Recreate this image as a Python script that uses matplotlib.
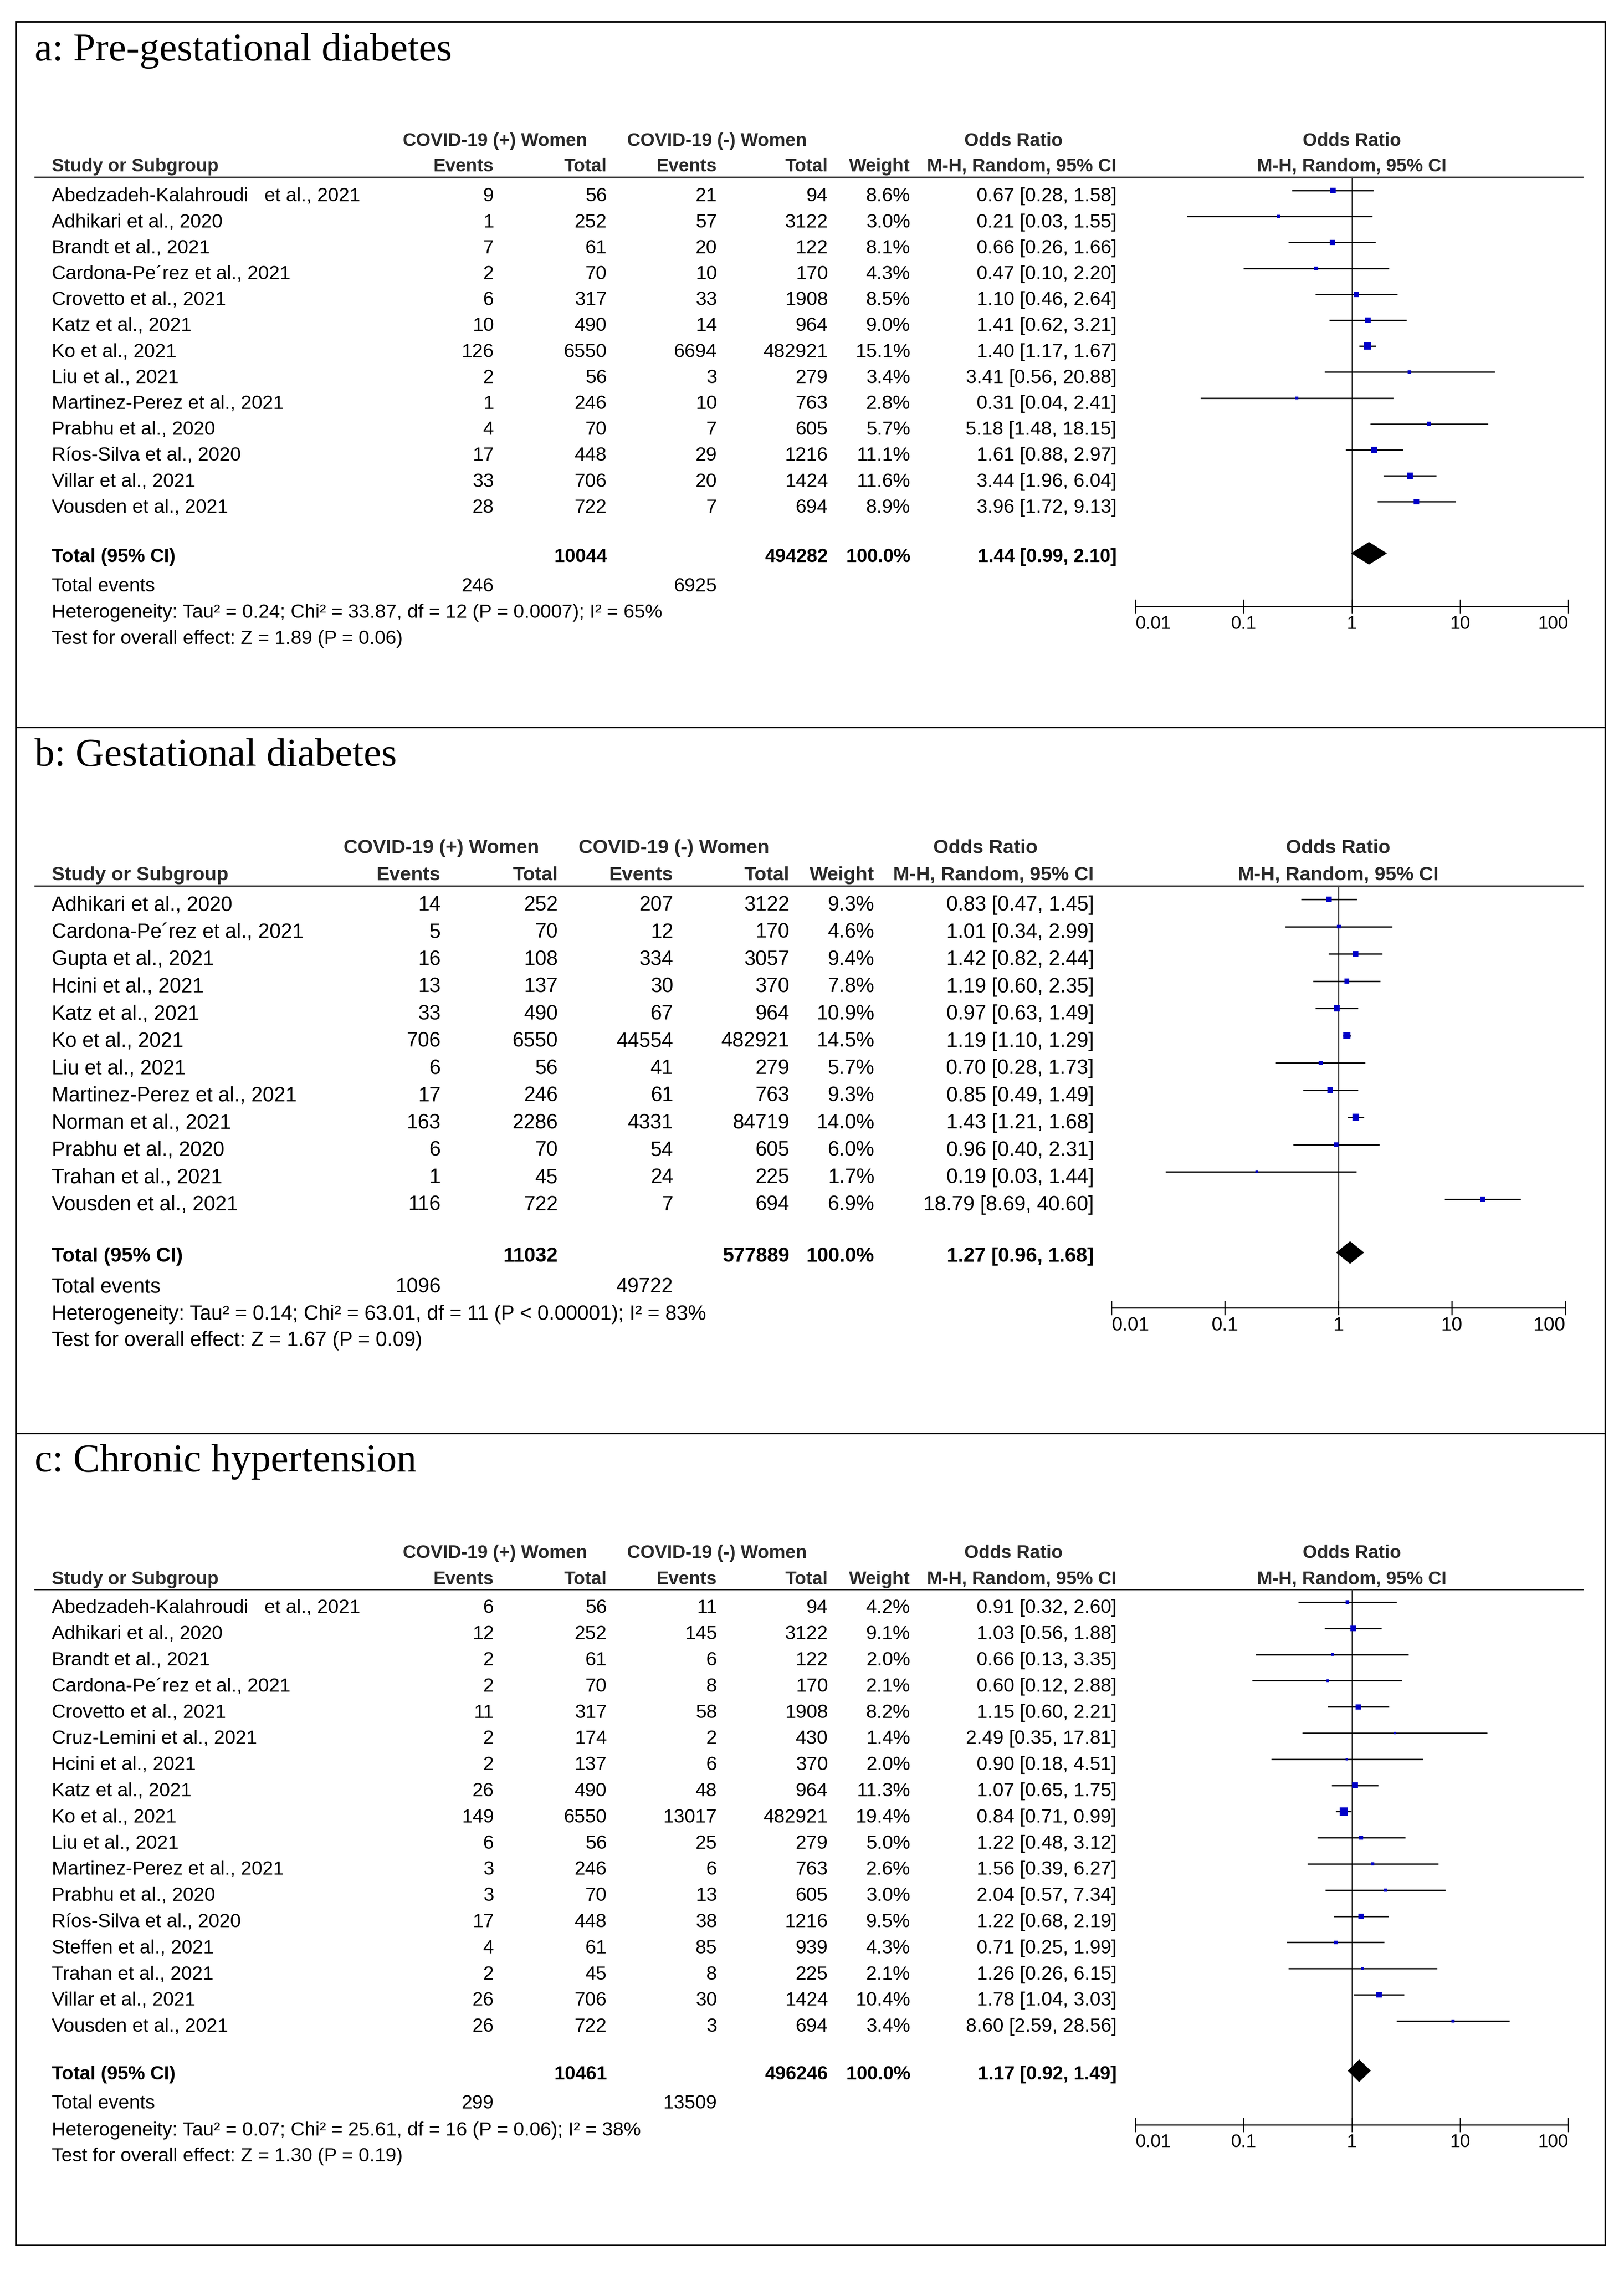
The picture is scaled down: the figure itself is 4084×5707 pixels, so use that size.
import matplotlib
matplotlib.use('Agg')
import matplotlib.pyplot as plt
from matplotlib.patches import Polygon, Rectangle
from matplotlib.ticker import NullLocator, FixedLocator
import numpy as np

plt.rcParams['font.family'] = ['Liberation Sans', 'DejaVu Sans']

W, H = 4084, 5707
DPI = 100
PX = 72.0 / DPI  # points per pixel

# ---------------- data: panel a ----------------
a_title = "a: Pre-gestational diabetes"
a_studies = ["Abedzadeh-Kalahroudi   et al., 2021", "Adhikari et al., 2020", "Brandt et al., 2021",
             "Cardona-Pe\u00b4rez et al., 2021", "Crovetto et al., 2021", "Katz et al., 2021",
             "Ko et al., 2021", "Liu et al., 2021", "Martinez-Perez et al., 2021", "Prabhu et al., 2020",
             "R\u00edos-Silva et al., 2020", "Villar et al., 2021", "Vousden et al., 2021"]
a_ev_pos = [9, 1, 7, 2, 6, 10, 126, 2, 1, 4, 17, 33, 28]
a_tot_pos = [56, 252, 61, 70, 317, 490, 6550, 56, 246, 70, 448, 706, 722]
a_ev_neg = [21, 57, 20, 10, 33, 14, 6694, 3, 10, 7, 29, 20, 7]
a_tot_neg = [94, 3122, 122, 170, 1908, 964, 482921, 279, 763, 605, 1216, 1424, 694]
a_weight = [8.6, 3.0, 8.1, 4.3, 8.5, 9.0, 15.1, 3.4, 2.8, 5.7, 11.1, 11.6, 8.9]
a_or = [0.67, 0.21, 0.66, 0.47, 1.10, 1.41, 1.40, 3.41, 0.31, 5.18, 1.61, 3.44, 3.96]
a_lo = [0.28, 0.03, 0.26, 0.10, 0.46, 0.62, 1.17, 0.56, 0.04, 1.48, 0.88, 1.96, 1.72]
a_hi = [1.58, 1.55, 1.66, 2.20, 2.64, 3.21, 1.67, 20.88, 2.41, 18.15, 2.97, 6.04, 9.13]
a_total = dict(tot_pos=10044, tot_neg=494282, ev_pos=246, ev_neg=6925, orv=1.44, lo=0.99, hi=2.10)
a_het = "Heterogeneity: Tau\u00b2 = 0.24; Chi\u00b2 = 33.87, df = 12 (P = 0.0007); I\u00b2 = 65%"
a_test = "Test for overall effect: Z = 1.89 (P = 0.06)"

# ---------------- data: panel b ----------------
b_title = "b: Gestational diabetes"
b_studies = ["Adhikari et al., 2020", "Cardona-Pe\u00b4rez et al., 2021", "Gupta et al., 2021",
             "Hcini et al., 2021", "Katz et al., 2021", "Ko et al., 2021", "Liu et al., 2021",
             "Martinez-Perez et al., 2021", "Norman et al., 2021", "Prabhu et al., 2020",
             "Trahan et al., 2021", "Vousden et al., 2021"]
b_ev_pos = [14, 5, 16, 13, 33, 706, 6, 17, 163, 6, 1, 116]
b_tot_pos = [252, 70, 108, 137, 490, 6550, 56, 246, 2286, 70, 45, 722]
b_ev_neg = [207, 12, 334, 30, 67, 44554, 41, 61, 4331, 54, 24, 7]
b_tot_neg = [3122, 170, 3057, 370, 964, 482921, 279, 763, 84719, 605, 225, 694]
b_weight = [9.3, 4.6, 9.4, 7.8, 10.9, 14.5, 5.7, 9.3, 14.0, 6.0, 1.7, 6.9]
b_or = [0.83, 1.01, 1.42, 1.19, 0.97, 1.19, 0.70, 0.85, 1.43, 0.96, 0.19, 18.79]
b_lo = [0.47, 0.34, 0.82, 0.60, 0.63, 1.10, 0.28, 0.49, 1.21, 0.40, 0.03, 8.69]
b_hi = [1.45, 2.99, 2.44, 2.35, 1.49, 1.29, 1.73, 1.49, 1.68, 2.31, 1.44, 40.60]
b_total = dict(tot_pos=11032, tot_neg=577889, ev_pos=1096, ev_neg=49722, orv=1.27, lo=0.96, hi=1.68)
b_het = "Heterogeneity: Tau\u00b2 = 0.14; Chi\u00b2 = 63.01, df = 11 (P < 0.00001); I\u00b2 = 83%"
b_test = "Test for overall effect: Z = 1.67 (P = 0.09)"

# ---------------- data: panel c ----------------
c_title = "c: Chronic hypertension"
c_studies = ["Abedzadeh-Kalahroudi   et al., 2021", "Adhikari et al., 2020", "Brandt et al., 2021",
             "Cardona-Pe\u00b4rez et al., 2021", "Crovetto et al., 2021", "Cruz-Lemini et al., 2021",
             "Hcini et al., 2021", "Katz et al., 2021", "Ko et al., 2021", "Liu et al., 2021",
             "Martinez-Perez et al., 2021", "Prabhu et al., 2020", "R\u00edos-Silva et al., 2020",
             "Steffen et al., 2021", "Trahan et al., 2021", "Villar et al., 2021", "Vousden et al., 2021"]
c_ev_pos = [6, 12, 2, 2, 11, 2, 2, 26, 149, 6, 3, 3, 17, 4, 2, 26, 26]
c_tot_pos = [56, 252, 61, 70, 317, 174, 137, 490, 6550, 56, 246, 70, 448, 61, 45, 706, 722]
c_ev_neg = [11, 145, 6, 8, 58, 2, 6, 48, 13017, 25, 6, 13, 38, 85, 8, 30, 3]
c_tot_neg = [94, 3122, 122, 170, 1908, 430, 370, 964, 482921, 279, 763, 605, 1216, 939, 225, 1424, 694]
c_weight = [4.2, 9.1, 2.0, 2.1, 8.2, 1.4, 2.0, 11.3, 19.4, 5.0, 2.6, 3.0, 9.5, 4.3, 2.1, 10.4, 3.4]
c_or = [0.91, 1.03, 0.66, 0.60, 1.15, 2.49, 0.90, 1.07, 0.84, 1.22, 1.56, 2.04, 1.22, 0.71, 1.26, 1.78, 8.60]
c_lo = [0.32, 0.56, 0.13, 0.12, 0.60, 0.35, 0.18, 0.65, 0.71, 0.48, 0.39, 0.57, 0.68, 0.25, 0.26, 1.04, 2.59]
c_hi = [2.60, 1.88, 3.35, 2.88, 2.21, 17.81, 4.51, 1.75, 0.99, 3.12, 6.27, 7.34, 2.19, 1.99, 6.15, 3.03, 28.56]
c_total = dict(tot_pos=10461, tot_neg=496246, ev_pos=299, ev_neg=13509, orv=1.17, lo=0.92, hi=1.49)
c_het = "Heterogeneity: Tau\u00b2 = 0.07; Chi\u00b2 = 25.61, df = 16 (P = 0.06); I\u00b2 = 38%"
c_test = "Test for overall effect: Z = 1.30 (P = 0.19)"

ticks = [0.01, 0.1, 1, 10, 100]
tick_labels = ["0.01", "0.1", "1", "10", "100"]

# ---------------- layout (pixels) ----------------
LAY_A = dict(top=55, title_base=152, h1=350, h2=414, rule=445, row0=489, dy=65.2,
             total=1396, tev=1470, het=1536, test=1602, axis=1525,
             cols=[1242, 1526, 1803, 2082, 2289, 2808], grp=[1245, 1803, 2549],
             x001=2855, x100=3944, fs=35, tfs=33)
LAY_B = dict(top=1829, title_base=1924, h1=2127, h2=2195, rule=2227, row0=2271, dy=68.5,
             total=3154, tev=3231, het=3300, test=3366, axis=3288,
             cols=[1108, 1403, 1693, 1985, 2199, 2751], grp=[1110, 1695, 2478],
             x001=2795, x100=3936, fs=37, tfs=35)
LAY_C = dict(top=3604, title_base=3699, h1=3900, h2=3966, rule=3996, row0=4038, dy=65.8,
             total=5211, tev=5284, het=5352, test=5417, axis=5342,
             cols=[1242, 1526, 1803, 2082, 2289, 2808], grp=[1245, 1803, 2549],
             x001=2855, x100=3944, fs=35, tfs=33)
FRAME = (40, 55, 4037, 5644)
LEFT_TXT = 130
RULE_X = (86, 3982)
HDR_COLOR = '#2a2a2a'
HDR_SCALE = 0.955
BLUE = '#0000c8'
LINE_PX = 3.4

fig = plt.figure(figsize=(W / DPI, H / DPI), dpi=DPI)
ax0 = fig.add_axes([0, 0, 1, 1])
ax0.set_xlim(0, W)
ax0.set_ylim(H, 0)
ax0.axis('off')

# outer frame and separators
x0, y0, x1, y1 = FRAME
ax0.add_patch(Rectangle((x0, y0), x1 - x0, y1 - y0, fill=False, lw=4 * PX, ec='black'))
for ysep in (LAY_B['top'], LAY_C['top']):
    ax0.plot([x0, x1], [ysep, ysep], color='black', lw=4 * PX, solid_capstyle='butt')


def txt(x, y, s, ha, fs, bold=False, color='black'):
    em = fs / PX
    ax0.text(x, y + 0.358 * em, s, ha=ha, va='baseline', fontsize=fs,
             fontweight='bold' if bold else 'normal', color=color)


def panel(L, title, studies, ev_pos, tot_pos, ev_neg, tot_neg, weight, orv, lo, hi, total, het, test):
    fs = L['fs']
    hfs = fs * HDR_SCALE
    c = L['cols']
    x_one = (L['x001'] + L['x100']) / 2.0
    ax0.text(87, L['title_base'], title, family='Liberation Serif', fontsize=72, va='baseline')
    # headers
    txt(L['grp'][0], L['h1'], "COVID-19 (+) Women", 'center', hfs, True, HDR_COLOR)
    txt(L['grp'][1], L['h1'], "COVID-19 (-) Women", 'center', hfs, True, HDR_COLOR)
    txt(L['grp'][2], L['h1'], "Odds Ratio", 'center', hfs, True, HDR_COLOR)
    txt(x_one, L['h1'], "Odds Ratio", 'center', hfs, True, HDR_COLOR)
    txt(LEFT_TXT, L['h2'], "Study or Subgroup", 'left', hfs, True, HDR_COLOR)
    for xc, lab in zip(c, ["Events", "Total", "Events", "Total", "Weight", "M-H, Random, 95% CI"]):
        txt(xc, L['h2'], lab, 'right', hfs, True, HDR_COLOR)
    txt(x_one, L['h2'], "M-H, Random, 95% CI", 'center', hfs, True, HDR_COLOR)
    ax0.plot(RULE_X, [L['rule'], L['rule']], color='black', lw=3 * PX, solid_capstyle='butt')
    # study rows
    for i, name in enumerate(studies):
        y = L['row0'] + i * L['dy']
        txt(LEFT_TXT, y, name, 'left', fs)
        txt(c[0], y, str(ev_pos[i]), 'right', fs)
        txt(c[1], y, str(tot_pos[i]), 'right', fs)
        txt(c[2], y, str(ev_neg[i]), 'right', fs)
        txt(c[3], y, str(tot_neg[i]), 'right', fs)
        txt(c[4], y, f"{weight[i]:.1f}%", 'right', fs)
        txt(c[5], y, f"{orv[i]:.2f} [{lo[i]:.2f}, {hi[i]:.2f}]", 'right', fs)
    # totals
    txt(LEFT_TXT, L['total'], "Total (95% CI)", 'left', fs * 0.98, True)
    txt(c[1], L['total'], str(total['tot_pos']), 'right', fs * 0.98, True)
    txt(c[3], L['total'], str(total['tot_neg']), 'right', fs * 0.98, True)
    txt(c[4], L['total'], "100.0%", 'right', fs * 0.98, True)
    txt(c[5], L['total'], f"{total['orv']:.2f} [{total['lo']:.2f}, {total['hi']:.2f}]", 'right',
        fs * 0.98, True)
    txt(LEFT_TXT, L['tev'], "Total events", 'left', fs)
    txt(c[0], L['tev'], str(total['ev_pos']), 'right', fs)
    txt(c[2], L['tev'], str(total['ev_neg']), 'right', fs)
    txt(LEFT_TXT, L['het'], het, 'left', fs)
    txt(LEFT_TXT, L['test'], test, 'left', fs)

    # forest plot axes
    ax = fig.add_axes([L['x001'] / W, 1 - L['axis'] / H,
                       (L['x100'] - L['x001']) / W, (L['axis'] - L['rule']) / H])
    ax.patch.set_alpha(0)
    ax.set_xscale('log')
    ax.set_xlim(0.01, 100)
    m0 = L['row0'] - 10
    dy = L['dy']
    ax.set_ylim((L['axis'] - m0) / dy, (L['rule'] - m0) / dy)
    idx = np.arange(len(studies))
    ax.axvline(1, color='#3c3c3c', lw=3 * PX, zorder=1)
    ax.hlines(idx, lo, hi, color='black', lw=LINE_PX * PX, zorder=2, clip_on=False)
    sizes = (4.6 * np.sqrt(np.array(weight)) * PX) ** 2
    ax.scatter(orv, idx, marker='s', s=sizes, color=BLUE, linewidths=0, zorder=3, clip_on=False)
    yt = (L['total'] - 5 - m0) / dy
    hh = 28 / dy
    ax.add_patch(Polygon([[total['lo'], yt], [total['orv'], yt - hh], [total['hi'], yt],
                          [total['orv'], yt + hh]], closed=True, fc='black', ec='black', lw=0.5, zorder=4))
    for sp in ('top', 'left', 'right'):
        ax.spines[sp].set_visible(False)
    ax.spines['bottom'].set_linewidth(3 * PX)
    ax.set_yticks([])
    ax.xaxis.set_major_locator(FixedLocator(ticks))
    ax.xaxis.set_minor_locator(NullLocator())
    ax.set_xticklabels(tick_labels)
    ax.tick_params(axis='x', direction='inout', length=36 * PX, width=3 * PX, pad=3,
                   labelsize=L['tfs'], colors='black')
    labs = ax.get_xticklabels()
    labs[0].set_ha('left')
    labs[-1].set_ha('right')


panel(LAY_A, a_title, a_studies, a_ev_pos, a_tot_pos, a_ev_neg, a_tot_neg, a_weight, a_or, a_lo, a_hi,
      a_total, a_het, a_test)
panel(LAY_B, b_title, b_studies, b_ev_pos, b_tot_pos, b_ev_neg, b_tot_neg, b_weight, b_or, b_lo, b_hi,
      b_total, b_het, b_test)
panel(LAY_C, c_title, c_studies, c_ev_pos, c_tot_pos, c_ev_neg, c_tot_neg, c_weight, c_or, c_lo, c_hi,
      c_total, c_het, c_test)

fig.savefig('out.png', dpi=DPI, facecolor='white')
